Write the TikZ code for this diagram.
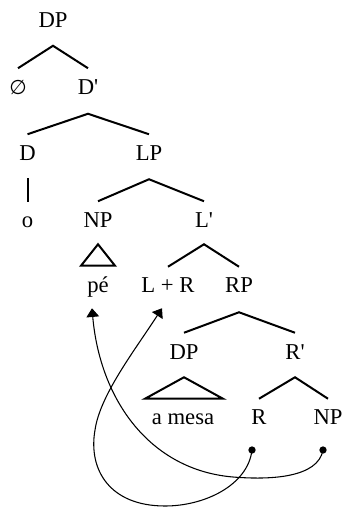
\documentclass[tikz,border=0pt]{standalone}
\usepackage{fontspec}
\setmainfont{Liberation Serif}
\newfontfamily\emptyfont{DejaVu Sans}
\usepackage{tikz}
\usetikzlibrary{arrows.meta, calc}
\tikzset{
  % Label styles
  cat/.style={inner sep=0pt, text height=11.25pt, text depth=0pt, font=\fontsize{17}{20}\selectfont},
  % Line styles
  branch/.style={line width=1.5pt},
  tri/.style={line width=1.5pt, line join=miter},
  move/.style={line width=0.8pt, -{Triangle[length=6.5pt, width=9.5pt]}},
  trace/.style={circle, fill=black, inner sep=0pt, minimum size=5.5pt}
}

\begin{document}
\begin{tikzpicture}[x=0.75pt, y=-0.75pt]
  \useasboundingbox (0,0) rectangle (344,507);

  % Labels
  \node[cat] (dp) at (53,20) {DP};
  \node[cat] (null) at (18,87) {\emptyfont\fontsize{15}{20}\selectfont ∅};
  \node[cat] (dbar) at (88,87) {D\textquotesingle};
  \node[cat] (d) at (27.5,153) {D};
  \node[cat] (lp) at (149,153) {LP};
  \node[cat] (o) at (27.5,220) {o};
  \node[cat] (np) at (98,220) {NP};
  \node[cat] (lbar) at (204,220) {L\textquotesingle};
  \node[cat] (pe) at (98,285) {pé};
  \node[cat] (lr) at (168,285) {L + R};
  \node[cat] (rp) at (239,285) {RP};
  \node[cat] (dpb) at (184,352) {DP};
  \node[cat] (rbar) at (295,352) {R\textquotesingle};
  \node[cat] (mesa) at (183,417) {a mesa};
  \node[cat] (r) at (259,417) {R};
  \node[cat] (npb) at (328,417) {NP};

  % Branches
  \draw[branch] ($(null.north)+(0,-11)$) -- ($(dp.south)+(0,18)$) -- ($(dbar.north)+(0,-11)$);
  \draw[branch] ($(d.north)+(0,-11)$) -- ($(dbar.south)+(0,19)$) -- ($(lp.north)+(0,-11)$);
  \draw[branch] ($(d.south)+(0,17.5)$) -- ($(o.north)+(0,-10.5)$);
  \draw[branch] ($(np.north)+(0,-11)$) -- ($(lp.south)+(0,18.5)$) -- ($(lbar.north)+(0,-11)$);
  \draw[branch] ($(lr.north)+(0,-10.5)$) -- ($(lbar.south)+(0,16.5)$) -- ($(rp.north)+(0,-10.5)$);
  \draw[branch] ($(dpb.north)+(0,-11.5)$) -- ($(rp.south)+(0,19.5)$) -- ($(rbar.north)+(0,-11.5)$);
  \draw[branch] ($(r.north)+(0,-10.5)$) -- ($(rbar.south)+(0,17.5)$) -- ($(npb.north)+(0,-10.5)$);

  % Triangles
  \draw[tri] ($(np.south)+(0,16.5)$) -- ($(pe.north)+(-17,-11.5)$) -- ($(pe.north)+(17,-11.5)$) -- cycle;
  \draw[tri] ($(dpb.south)+(0,17.5)$) -- ($(mesa.north)+(-38,-10.5)$) -- ($(mesa.north)+(40,-10.5)$) -- cycle;

  % Traces and movement
  \node[trace] (rt) at (252,450) {};
  \node[trace] (npt) at (323,450) {};
  \coordinate (petip) at ($(pe.south)+(-6,15.5)$);
  \coordinate (lrtip) at ($(lr.south)+(-6,15.5)$);

  \draw[move] (npt.center) .. controls (318,478) and (270,480) .. (233,477)
    .. controls (150,470) and (100,400) .. (petip);
  \draw[move] (rt.center) .. controls (248,485) and (205,506) .. (165,506)
    .. controls (110,506) and (88,470) .. (95,430)
    .. controls (100,395) and (135,350) .. (lrtip);
\end{tikzpicture}
\end{document}
